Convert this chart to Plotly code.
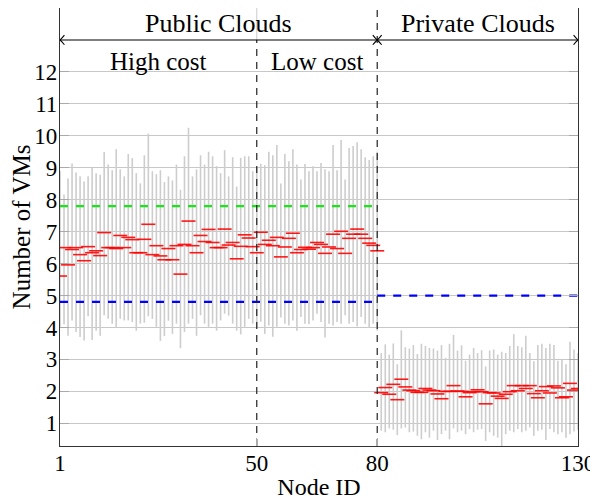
import plotly.graph_objects as go

# ---------------- data ----------------
node_ids = list(range(1, 131))

means_public = [
    5.61, 6.50, 5.96, 6.44, 6.50, 6.28, 6.09, 6.53, 6.34, 6.40,
    6.25, 6.97, 6.50, 6.50, 6.47, 6.88, 6.50, 6.82, 6.75, 6.34,
    6.34, 6.76, 7.23, 6.28, 6.56, 6.24, 6.12, 6.47, 6.12, 6.56,
    5.67, 6.60, 7.33, 6.56, 6.34, 6.88, 6.69, 7.07, 6.66, 6.50,
    6.50, 7.08, 6.58, 6.66, 6.15, 6.54, 6.90, 6.80, 6.53, 6.34,
    6.98, 6.60, 6.73, 6.56, 6.82, 6.21, 6.52, 6.79, 6.95, 6.34,
    6.44, 6.51, 6.45, 6.50, 6.66, 6.60, 6.32, 6.52, 6.92, 6.47,
    7.01, 6.32, 6.79, 6.92, 7.08, 6.92, 6.79, 6.64, 6.57, 6.40,
]
means_private = [
    1.96, 2.12, 1.91, 2.22, 1.74, 2.38, 2.14, 2.04, 2.02, 1.97,
    1.97, 2.09, 2.04, 2.02, 1.92, 1.77, 2.00, 2.00, 2.18, 2.01,
    2.00, 1.83, 1.96, 1.99, 2.05, 1.99, 1.61, 1.96, 1.95, 1.85,
    1.78, 1.91, 1.99, 2.18, 2.02, 2.18, 2.09, 2.18, 1.93, 1.80,
    2.02, 2.15, 1.95, 2.17, 2.11, 1.80, 1.83, 2.25, 2.04, 2.09,
]
highs_public = [
    8.90, 8.16, 8.66, 9.13, 8.85, 8.73, 8.57, 8.73, 8.99, 8.83,
    8.78, 9.49, 9.10, 8.92, 9.58, 8.95, 8.73, 9.43, 9.30, 8.83,
    8.51, 9.39, 10.07, 8.89, 8.80, 8.92, 8.55, 8.73, 8.60, 9.10,
    8.31, 9.36, 10.25, 8.73, 8.95, 9.39, 9.10, 9.50, 9.36, 9.05,
    8.83, 9.55, 8.73, 9.33, 8.41, 9.31, 9.36, 9.36, 8.89, 9.00,
    9.12, 9.08, 9.50, 9.39, 9.71, 8.51, 9.43, 9.20, 9.58, 9.10,
    8.63, 9.12, 8.89, 9.05, 8.89, 9.15, 8.95, 8.89, 9.71, 8.92,
    9.87, 8.63, 9.62, 9.68, 9.80, 9.58, 9.33, 9.24, 9.36, 9.50,
]
highs_private = [
    3.20, 3.47, 3.15, 3.50, 2.85, 3.91, 3.38, 3.34, 3.45, 3.17,
    3.49, 3.42, 3.36, 3.34, 3.28, 3.45, 3.05, 3.49, 3.77, 3.28,
    3.44, 2.96, 3.15, 3.36, 3.20, 3.29, 2.78, 3.28, 3.31, 3.15,
    3.24, 3.20, 3.42, 3.79, 3.42, 3.38, 3.74, 3.20, 2.94, 3.45,
    3.49, 3.36, 3.49, 3.45, 2.96, 2.99, 2.85, 3.55, 3.31, 3.20,
]
lows_public = [
    4.00, 4.10, 3.74, 4.22, 3.86, 3.70, 3.59, 4.35, 3.61, 3.90,
    3.74, 4.38, 4.27, 4.12, 3.99, 4.27, 4.22, 4.22, 4.17, 3.90,
    4.12, 4.15, 4.35, 4.27, 4.02, 3.58, 3.73, 4.21, 3.80, 4.12,
    3.35, 3.86, 4.12, 4.27, 3.74, 4.38, 4.12, 4.02, 4.12, 3.90,
    4.22, 4.43, 4.37, 4.12, 3.90, 3.78, 4.02, 4.27, 4.12, 4.00,
    4.18, 3.80, 4.06, 3.71, 4.02, 4.31, 4.12, 4.06, 4.22, 3.90,
    4.33, 4.12, 4.10, 4.22, 4.43, 4.17, 3.69, 4.12, 4.06, 4.17,
    4.12, 4.38, 4.12, 4.17, 4.03, 4.33, 4.12, 3.99, 4.12, 3.90,
]
lows_private = [
    0.77, 0.72, 0.84, 0.80, 0.63, 0.84, 0.87, 0.72, 0.74, 0.61,
    0.50, 0.72, 0.55, 0.77, 0.48, 0.66, 0.77, 0.50, 0.84, 0.72,
    0.77, 0.66, 0.82, 0.72, 0.80, 0.82, 0.45, 0.72, 0.61, 0.55,
    0.25, 0.66, 0.77, 0.72, 0.82, 0.72, 0.77, 0.87, 0.61, 0.77,
    0.80, 0.48, 0.82, 0.72, 0.66, 0.72, 0.55, 0.66, 0.74, 0.80,
]

public_range = [1, 80]
private_range = [80, 130]
cost_split = 50
green_public = 7.8
blue_public = 4.8
blue_private = 5.0

x_ticks = [1, 50, 80, 130]
y_ticks = list(range(1, 13))
y_range = [0.29, 14.0]
arrow_y = 13.0
group_label_y = 13.5
cost_label_y = 12.33
group_labels = ["Public Clouds", "Private Clouds"]
cost_labels = ["High cost", "Low cost"]

# ---------------- figure ----------------
means = means_public + means_private
highs = highs_public + highs_private
lows = lows_public + lows_private
err_plus = [h - m for h, m in zip(highs, means)]
err_minus = [m - l for m, l in zip(means, lows)]

FONT = "Liberation Serif, Times New Roman, serif"

fig = go.Figure()

fig.add_trace(go.Scatter(
    x=node_ids, y=means, mode="markers",
    marker=dict(symbol="line-ew", size=10, color="red",
                line=dict(color="rgba(255,0,0,0.9)", width=1.6)),
    error_y=dict(type="data", symmetric=False, array=err_plus,
                 arrayminus=err_minus, color="#cdcdcd", thickness=1.6, width=0),
    showlegend=False, hoverinfo="skip",
))

# threshold lines
fig.add_trace(go.Scatter(x=public_range, y=[green_public] * 2, mode="lines",
                         line=dict(color="#19e619", width=2.3, dash="8px,8px"),
                         showlegend=False, hoverinfo="skip"))
fig.add_trace(go.Scatter(x=public_range, y=[blue_public] * 2, mode="lines",
                         line=dict(color="#0000ff", width=2.3, dash="8px,8px"),
                         showlegend=False, hoverinfo="skip"))
fig.add_trace(go.Scatter(x=private_range, y=[blue_private] * 2, mode="lines",
                         line=dict(color="#0000ff", width=2.3, dash="8px,8px"),
                         showlegend=False, hoverinfo="skip"))

# separators
fig.add_trace(go.Scatter(x=[cost_split] * 2, y=[y_range[0], arrow_y], mode="lines",
                         line=dict(color="#222", width=1.2, dash="7px,6px"),
                         showlegend=False, hoverinfo="skip"))
fig.add_trace(go.Scatter(x=[cost_split] * 2, y=[arrow_y, y_range[1]], mode="lines",
                         line=dict(color="#cccccc", width=1),
                         showlegend=False, hoverinfo="skip"))
fig.add_trace(go.Scatter(x=[public_range[1]] * 2, y=y_range, mode="lines",
                         line=dict(color="#222", width=1.2, dash="7px,6px"),
                         showlegend=False, hoverinfo="skip"))

# arrows (double headed) for the two cloud groups
dx, dy = 1.1, 0.15
for seg in (public_range, private_range):
    a, b = seg
    fig.add_shape(type="line", x0=a, x1=b, y0=arrow_y, y1=arrow_y,
                  xref="x", yref="y", line=dict(color="black", width=1.1))
    fig.add_shape(type="path", xref="x", yref="y",
                  path=f"M {a + dx},{arrow_y + dy} Q {a + dx * 0.4},{arrow_y + dy * 0.3} {a},{arrow_y} "
                       f"Q {a + dx * 0.4},{arrow_y - dy * 0.3} {a + dx},{arrow_y - dy}",
                  line=dict(color="black", width=1.1))
    fig.add_shape(type="path", xref="x", yref="y",
                  path=f"M {b - dx},{arrow_y + dy} Q {b - dx * 0.4},{arrow_y + dy * 0.3} {b},{arrow_y} "
                       f"Q {b - dx * 0.4},{arrow_y - dy * 0.3} {b - dx},{arrow_y - dy}",
                  line=dict(color="black", width=1.1))

# labels
for seg, txt in zip((public_range, private_range), group_labels):
    fig.add_annotation(x=(seg[0] + seg[1]) / 2, y=group_label_y, text=txt,
                       showarrow=False, xref="x", yref="y",
                       font=dict(family=FONT, size=26, color="black"))
for seg, txt in zip(([public_range[0], cost_split], [cost_split, public_range[1]]), cost_labels):
    fig.add_annotation(x=(seg[0] + seg[1]) / 2, y=cost_label_y, text=txt,
                       showarrow=False, xref="x", yref="y",
                       font=dict(family=FONT, size=25, color="black"))

# the page body adds an 8px margin, so the figure is 8px smaller than the window
fig.update_layout(
    width=590, height=492,
    margin=dict(l=52, r=20, t=0, b=54),
    paper_bgcolor="white", plot_bgcolor="white",
    font=dict(family=FONT, size=23, color="black"),
    showlegend=False,
)
fig.update_xaxes(
    range=[public_range[0], private_range[1]], tickvals=x_ticks,
    ticktext=[str(v) for v in x_ticks],
    showgrid=False, zeroline=False, automargin=False,
    ticklabeloverflow="allow", ticklabelstandoff=-4,
    showline=True, linecolor="#333", linewidth=1.2, mirror=True,
    ticks="inside", ticklen=8, tickcolor="#aaaaaa", tickwidth=1,
    title=dict(text="Node ID", standoff=9, font=dict(size=24)),
    tickfont=dict(size=23),
)
fig.update_yaxes(
    range=y_range, tickvals=y_ticks,
    showgrid=True, gridcolor="#c8c8c8", gridwidth=1, zeroline=False,
    automargin=False, ticklabelstandoff=-3,
    showline=True, linecolor="#333", linewidth=1.2, mirror="ticks",
    ticks="inside", ticklen=9, tickcolor="#aaaaaa", tickwidth=1,
    title=dict(text="Number of VMs", standoff=5, font=dict(size=25)),
    tickfont=dict(size=23),
)

fig.write_html("out.html")
